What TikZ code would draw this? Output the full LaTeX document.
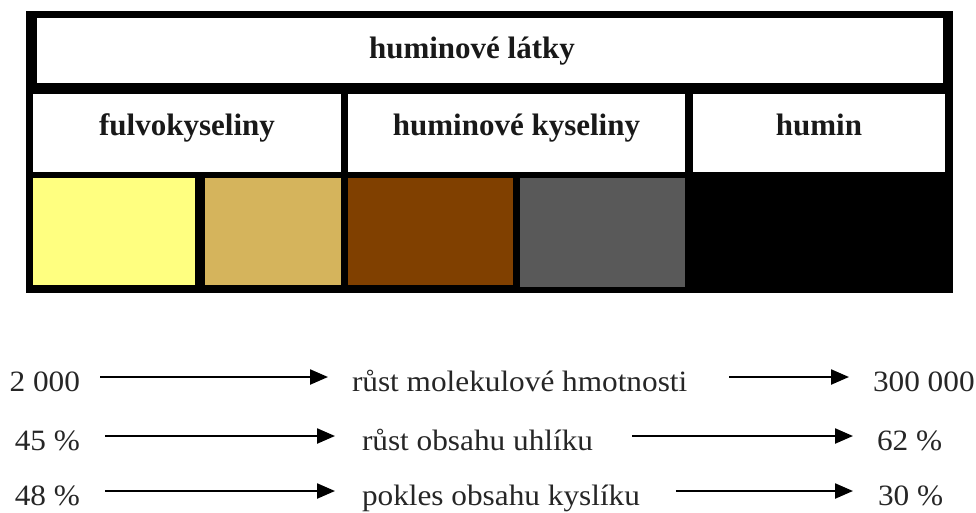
\documentclass[tikz,border=0pt]{standalone}
\usepackage{fontspec}
\setmainfont{Liberation Serif}
\newfontfamily\bodyfont{Liberation Serif}[FakeStretch=1.06]
\usetikzlibrary{arrows.meta}

\definecolor{fulvolight}{RGB}{255,255,128}
\definecolor{fulvodark}{RGB}{213,180,92}
\definecolor{humbrown}{RGB}{128,64,0}
\definecolor{humgray}{RGB}{89,89,89}
\definecolor{inkgray}{RGB}{38,38,38}

\tikzset{
  cell/.style={rectangle, inner sep=0pt, outer sep=0pt, draw=none},
  hdr/.style={inner sep=0pt, outer sep=0pt, font=\fontsize{31}{36}\selectfont\bfseries, text=black!90},
  body/.style={inner sep=0pt, outer sep=0pt, font=\bodyfont\fontsize{29.5}{34}\selectfont,
               text=inkgray, text height=28pt, text depth=0pt},
  arr/.style={line width=2.3pt, -{Triangle[length=18pt,width=15pt]}}
}

\begin{document}
\begin{tikzpicture}[x=1pt,y=-1pt]
\useasboundingbox (0,0) rectangle (976,512);
\fill[white] (0,0) rectangle (976,512);

% black frame of the table
\node[cell, fill=black, minimum width=927pt, minimum height=282pt] (frame) at (489.5,152) {};

% header rows
\node[cell, fill=white, minimum width=906pt, minimum height=65pt] (titlecell) at (490,50.5) {};
\node[cell, fill=white, minimum width=308pt, minimum height=78pt] (fulvocell) at (187,133) {};
\node[cell, fill=white, minimum width=337pt, minimum height=78pt] (hkcell) at (516.5,133) {};
\node[cell, fill=white, minimum width=252pt, minimum height=78pt] (humincell) at (819,133) {};

\node[hdr, anchor=base] (titletxt) at (472,58) {huminové látky};
\node[hdr, anchor=base] (fulvotxt) at (187,135) {fulvokyseliny};
\node[hdr, anchor=base] (hktxt) at (516.5,135) {huminové kyseliny};
\node[hdr, anchor=base] (humintxt) at (819,135) {humin};

% colour swatches
\node[cell, fill=fulvolight, minimum width=162pt, minimum height=107pt] (swA) at (114,231.5) {};
\node[cell, fill=fulvodark, minimum width=136pt, minimum height=107pt] (swB) at (273,231.5) {};
\node[cell, fill=humbrown, minimum width=165pt, minimum height=107pt] (swC) at (430.5,231.5) {};
\node[cell, fill=humgray, minimum width=165pt, minimum height=109pt] (swD) at (602.5,232.5) {};
\node[cell, fill=black, minimum width=252pt, minimum height=109pt] (swE) at (819,232.5) {};

% trends
\node[body, anchor=base east] (l1) at (80,391) {2 000};
\node[body, anchor=base west] (m1) at (352,391) {růst molekulové hmotnosti};
\node[body, anchor=base west] (r1) at (873,391) {300 000};

\node[body, anchor=base east] (l2) at (80,450) {45 \%};
\node[body, anchor=base west] (m2) at (362,450) {růst obsahu uhlíku};
\node[body, anchor=base west] (r2) at (877,450) {62 \%};

\node[body, anchor=base east] (l3) at (80,505) {48 \%};
\node[body, anchor=base west] (m3) at (362,505) {pokles obsahu kyslíku};
\node[body, anchor=base west] (r3) at (878,505) {30 \%};

\draw[arr, shorten <=20pt, shorten >=24pt] (l1.east) -- (m1.west);
\draw[arr, shorten <=42pt, shorten >=24pt] (m1.east) -- (r1.west);
\draw[arr, shorten <=25pt, shorten >=27pt] (l2.east) -- (m2.west);
\draw[arr, shorten <=39pt, shorten >=24pt] (m2.east) -- (r2.west);
\draw[arr, shorten <=25pt, shorten >=27pt] (l3.east) -- (m3.west);
\draw[arr, shorten <=36pt, shorten >=25pt] (m3.east) -- (r3.west);
\end{tikzpicture}
\end{document}
